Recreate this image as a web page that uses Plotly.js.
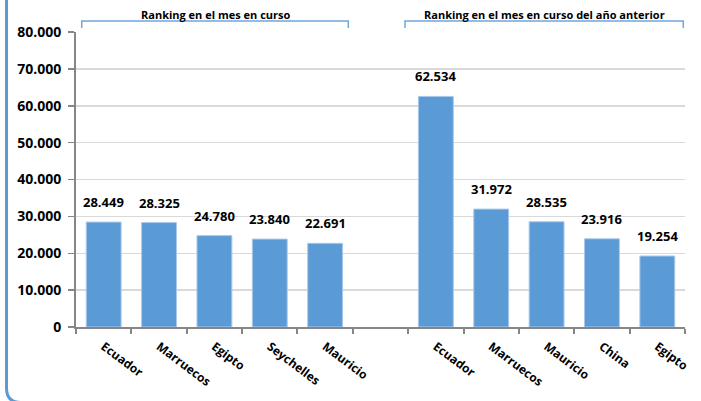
<!DOCTYPE html>
<html>
<head>
<meta charset="utf-8">
<script src="https://cdn.plot.ly/plotly-3.0.1.min.js"></script>
<style>
  html, body { margin: 0; padding: 0; background: #ffffff; }
  #chart { width: 701px; height: 401px; }
</style>
</head>
<body>
<div id="chart"></div>
<script>
// ---- Data ----
const groupTitles = ['Ranking en el mes en curso', 'Ranking en el mes en curso del año anterior'];
const currentCountries = ['Ecuador', 'Marruecos', 'Egipto', 'Seychelles', 'Mauricio'];
const currentValues = [28449, 28325, 24780, 23840, 22691];
const previousCountries = ['Ecuador', 'Marruecos', 'Mauricio', 'China', 'Egipto'];
const previousValues = [62534, 31972, 28535, 23916, 19254];
const yTickValues = [0, 10000, 20000, 30000, 40000, 50000, 60000, 70000, 80000];

// positions: 5 slots, one empty slot, 5 slots
const xCurrent = currentCountries.map((_, i) => i);
const xPrevious = previousCountries.map((_, i) => i + currentCountries.length + 1);
const xAll = xCurrent.concat(xPrevious);
const labelsAll = currentCountries.concat(previousCountries);
const valuesAll = currentValues.concat(previousValues);

const fmt = v => v.toLocaleString('de-DE');

const blue = '#5b9bd5';
const grey = '#868686';
const txtFont = { family: 'Open Sans, sans-serif', weight: 'bold', color: '#000000' };

const trace = {
  type: 'bar',
  x: xAll,
  y: valuesAll,
  width: 0.63,
  marker: { color: blue, line: { color: '#a8c9ec', width: 1 } },
  hoverinfo: 'skip'
};

const annotations = xAll.map((x, i) => ({
  x: x, y: valuesAll[i], xref: 'x', yref: 'y',
  text: fmt(valuesAll[i]),
  showarrow: false, yanchor: 'bottom', yshift: 9,
  font: Object.assign({}, txtFont, { size: 13 })
}));

// layout pixel helpers (plot area: x 76..685, y 32..327)
const L = 76, R = 685, T = 32, B = 327;
const px = v => (v - L) / (R - L);
const py = v => (B - v) / (B - T);

const groupCentersPx = [215, 544];
groupTitles.forEach((t, i) => {
  annotations.push({
    x: px(groupCentersPx[i]), y: py(14), xref: 'paper', yref: 'paper',
    text: t, showarrow: false, xanchor: 'center', yanchor: 'middle',
    font: Object.assign({}, txtFont, { size: 11 })
  });
});

function bracket(x0, x1) {
  return {
    type: 'path', xref: 'paper', yref: 'paper',
    path: `M ${px(x0)},${py(28)} L ${px(x0)},${py(21)} L ${px(x1)},${py(21)} L ${px(x1)},${py(28)}`,
    line: { color: '#6fa7dc', width: 1.5 }
  };
}

const shapes = [
  bracket(81.7, 348.3),
  bracket(405, 683.3),
  {
    type: 'path', xref: 'paper', yref: 'paper',
    path: `M ${px(6.5)},${py(-10)} L ${px(6.5)},${py(388)} Q ${px(6.5)},${py(402.5)} ${px(21)},${py(402.5)} L ${px(720)},${py(402.5)}`,
    line: { color: blue, width: 3 }
  }
];

const layout = {
  width: 701, height: 401,
  margin: { l: L, r: 701 - R, t: T, b: 401 - B, pad: 0 },
  paper_bgcolor: '#ffffff', plot_bgcolor: '#ffffff',
  showlegend: false,
  separators: ',.',
  xaxis: {
    range: [-0.5, 10.5],
    tickmode: 'array', tickvals: xAll, ticktext: labelsAll,
    tickangle: 37,
    ticks: '', showgrid: false, zeroline: false,
    showline: true, linecolor: grey, linewidth: 2,
    ticklabelstandoff: 6,
    tickfont: Object.assign({}, txtFont, { size: 12 }),
    minor: { tickmode: 'linear', tick0: -0.5, dtick: 1, ticks: 'outside', ticklen: 5, tickcolor: grey, tickwidth: 2, showgrid: false }
  },
  yaxis: {
    range: [0, 80000],
    tickmode: 'array', tickvals: yTickValues,
    tickformat: ',d',
    ticks: 'outside', ticklen: 6, tickcolor: grey, tickwidth: 1.5,
    showgrid: true, gridcolor: '#d9d9d9', gridwidth: 1.5,
    zeroline: false,
    showline: true, linecolor: grey, linewidth: 2,
    ticklabelstandoff: 4,
    tickfont: Object.assign({}, txtFont, { size: 14 })
  },
  annotations: annotations,
  shapes: shapes
};

Plotly.newPlot('chart', [trace], layout, { displayModeBar: false, staticPlot: true });
</script>
</body>
</html>
